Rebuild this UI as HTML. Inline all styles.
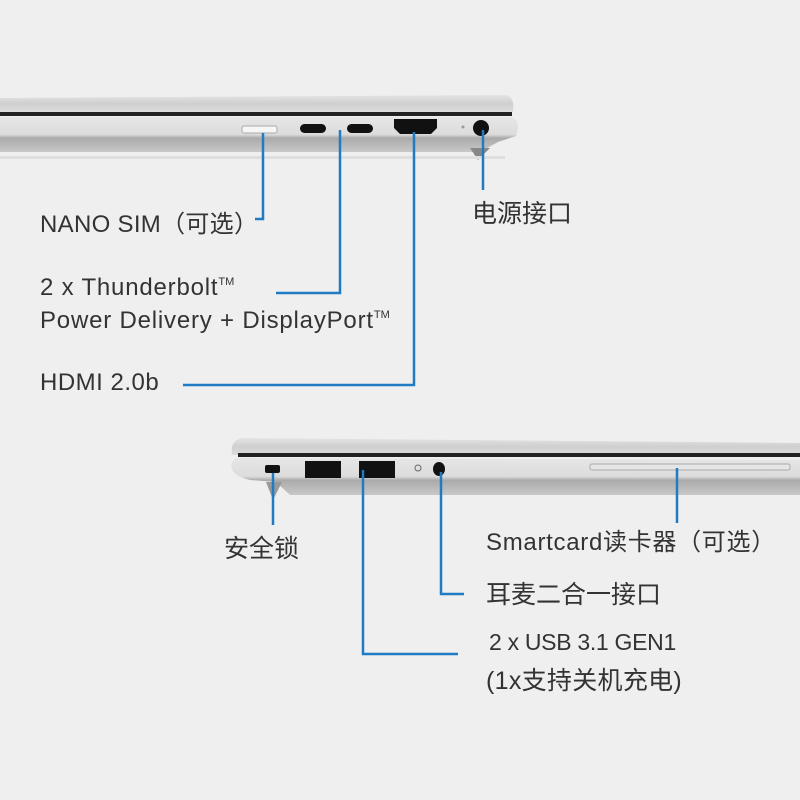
<!DOCTYPE html>
<html><head><meta charset="utf-8"><style>
html,body{margin:0;padding:0;background:#efefef;}
svg{display:block}
text{font-family:"Liberation Sans","Noto Sans CJK SC",sans-serif;fill:#333;}
</style></head><body>
<svg width="800" height="800" viewBox="0 0 800 800" xmlns="http://www.w3.org/2000/svg">
<defs>
<linearGradient id="lid" x1="0" y1="0" x2="0" y2="1"><stop offset="0" stop-color="#e4e4e4"/><stop offset="0.5" stop-color="#cfcfcf"/><stop offset="1" stop-color="#dcdcdc"/></linearGradient>
<linearGradient id="base" x1="0" y1="0" x2="0" y2="1"><stop offset="0" stop-color="#e6e6e6"/><stop offset="0.5" stop-color="#dcdcdc"/><stop offset="0.6" stop-color="#aaaaaa"/><stop offset="1" stop-color="#c8c8c8"/></linearGradient>
</defs>
<rect width="800" height="800" fill="#efefef"/>
<!-- top laptop -->
<path d="M0 98 L505 95 Q515 96 513 112 L0 112 Z" fill="url(#lid)"/>
<rect x="0" y="112" width="512" height="4" fill="#222"/>
<path d="M0 117 L510 117 Q522 120 516 136 L498 142 L480 152 L0 152 Z" fill="url(#base)"/>
<path d="M470 148 L490 148 L478 160 Z" fill="#888"/>
<rect x="0" y="156" width="505" height="3" fill="#dedede"/>
<rect x="242" y="126" width="35" height="7" rx="2" fill="#f6f6f6" stroke="#aaa"/>
<rect x="300" y="124" width="26" height="9" rx="4.5" fill="#111"/>
<rect x="347" y="124" width="26" height="9" rx="4.5" fill="#111"/>
<path d="M394 119 L437 119 L437 128 L431 134 L400 134 L394 128 Z" fill="#111"/>
<circle cx="481" cy="128" r="8" fill="#111"/>
<circle cx="463" cy="127" r="1.5" fill="#999"/>
<g stroke="#1f7cc4" stroke-width="2.5" fill="none">
<polyline points="263,133 263,219 255,219"/>
<polyline points="340,130 340,293 276,293"/>
<polyline points="414,132 414,385 183,385"/>
<polyline points="483,130 483,190"/>
</g>
<text x="40" y="232" font-size="24" letter-spacing="0.3">NANO SIM（可选）</text>
<text x="40" y="295" font-size="24" letter-spacing="0.8">2 x  Thunderbolt<tspan font-size="11" dy="-10" letter-spacing="0">TM</tspan></text>
<text x="40" y="328" font-size="24" letter-spacing="0.8">Power Delivery + DisplayPort<tspan font-size="11" dy="-10" letter-spacing="0">TM</tspan></text>
<text x="40" y="390" font-size="24" letter-spacing="0.5">HDMI 2.0b</text>
<text x="472" y="222" font-size="25">电源接口</text>
<!-- bottom laptop -->
<path d="M242 438 L800 443 L800 455 L232 455 Q230 440 242 438 Z" fill="url(#lid)"/>
<rect x="238" y="453" width="562" height="4" fill="#222"/>
<path d="M236 458 L800 460 L800 495 L290 495 L276 482 L250 480 Q228 475 232 462 Z" fill="url(#base)"/>
<path d="M266 482 L282 482 L273 500 Z" fill="#999"/>
<rect x="265" y="465" width="15" height="8" rx="2" fill="#111"/>
<rect x="305" y="461" width="36" height="17" fill="#111"/>
<rect x="359" y="461" width="36" height="17" fill="#111"/>
<circle cx="418" cy="468" r="3" fill="none" stroke="#666"/>
<ellipse cx="439" cy="469" rx="6" ry="7" fill="#111"/>
<rect x="590" y="464" width="200" height="6" rx="2" fill="#e6e6e6" stroke="#aaa"/>
<g stroke="#1f7cc4" stroke-width="2.5" fill="none">
<polyline points="273,473 273,525"/>
<polyline points="363,470 363,654 458,654"/>
<polyline points="441,472 441,594 464,594"/>
<polyline points="677,468 677,523"/>
</g>
<text x="224" y="557" font-size="25">安全锁</text>
<text x="486" y="550" font-size="24" letter-spacing="0.7">Smartcard读卡器（可选）</text>
<text x="486" y="603" font-size="25">耳麦二合一接口</text>
<text x="489" y="650" font-size="23" letter-spacing="-0.3">2 x USB 3.1 GEN1</text>
<text x="486" y="689" font-size="25" letter-spacing="0.3">(1x支持关机充电)</text>
</svg>
</body></html>
